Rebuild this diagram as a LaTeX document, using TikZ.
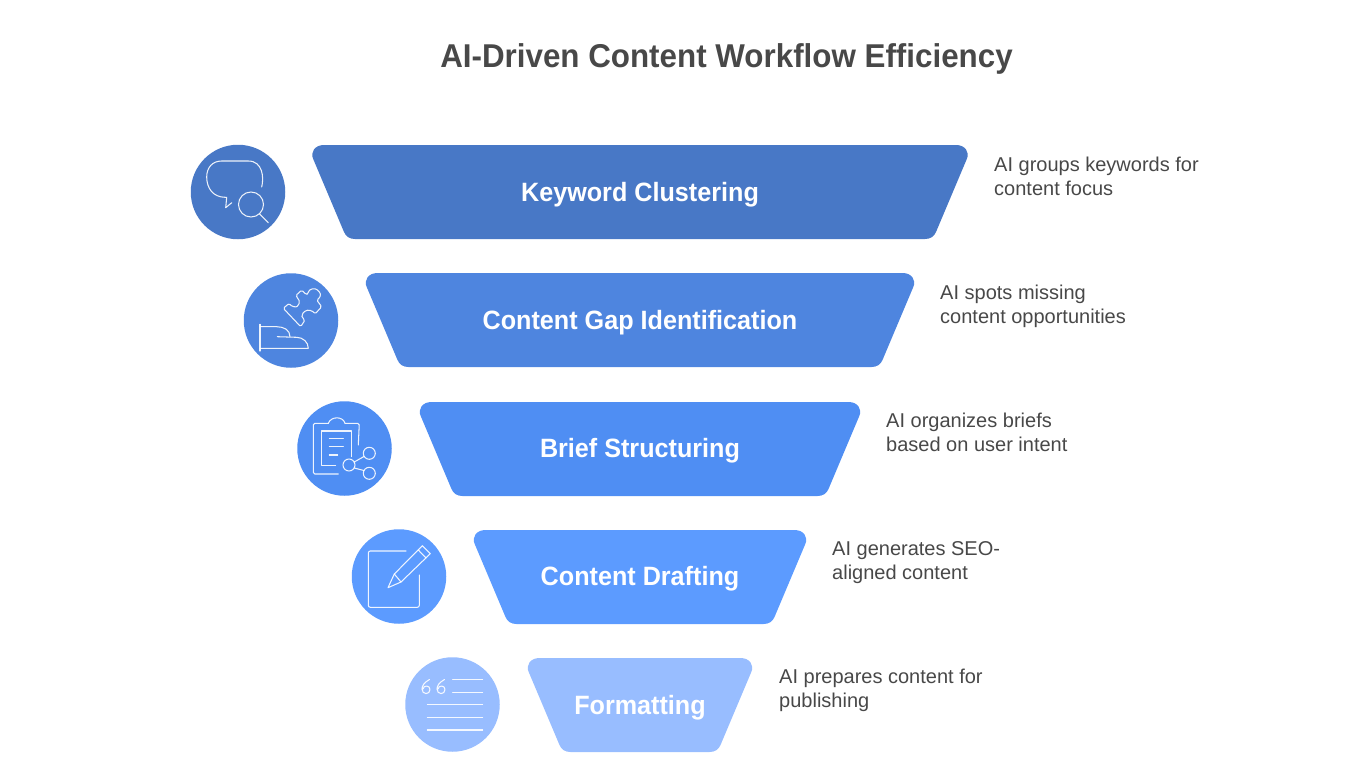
\documentclass[tikz,border=0pt]{standalone}
\usepackage{fontspec}
\setmainfont{Liberation Sans}
\newfontfamily\condb[FakeStretch=0.95]{Liberation Sans}
\definecolor{cA}{HTML}{4878C6}
\definecolor{cB}{HTML}{4E85DF}
\definecolor{cC}{HTML}{4F8EF3}
\definecolor{cD}{HTML}{5C9BFF}
\definecolor{cE}{HTML}{98BDFF}
\definecolor{ink}{HTML}{484848}
\tikzset{
  disc/.style={circle,minimum size=94.5pt,inner sep=0pt},
  bandlabel/.style={font=\fontsize{26.5}{27}\condb\bfseries,text=white,inner sep=0pt,anchor=base},
  side/.style={font=\fontsize{20}{24}\selectfont,text=ink,anchor=base west,inner sep=0pt},
  icon/.style={draw=white,line width=1.05pt,line cap=round,line join=round,opacity=.9},
}
% colour, top y, half-width reduction relative to the widest band
\newcommand\bandshape[3]{%
  \fill[#1,shift={(640,#2)}]
    ({-316+#3},0) -- ({316-#3},0)
    .. controls ({325-#3},0) and ({330-#3},7) .. ({326.8-#3},14)
    -- ({296-#3},87) .. controls ({294-#3},91.5) and ({290.5-#3},94) .. ({285-#3},94)
    -- ({-285+#3},94) .. controls ({-290.5+#3},94) and ({-294+#3},91.5) .. ({-296+#3},87)
    -- ({-326.8+#3},14) .. controls ({-330+#3},7) and ({-325+#3},0) .. ({-316+#3},0) -- cycle;}
\begin{document}
\begin{tikzpicture}[x=1pt,y=-1pt]
\useasboundingbox (0,0) rectangle (1360,768);
\node[font=\fontsize{33}{33}\condb\bfseries,text=ink,inner sep=0pt,anchor=base] (title) at (726.5,67) {AI-Driven Content Workflow Efficiency};
% bands
\bandshape{cA}{145}{0}
\bandshape{cB}{273}{53.5}
\bandshape{cC}{402}{107.5}
\bandshape{cD}{530}{161.5}
\bandshape{cE}{658}{215.5}
\node[bandlabel] (b1) at (640,201) {Keyword Clustering};
\node[bandlabel] (b2) at (640,329.5) {Content Gap Identification};
\node[bandlabel] (b3) at (640,457.5) {Brief Structuring};
\node[bandlabel] (b4) at (640,585.5) {Content Drafting};
\node[bandlabel] (b5) at (640,714) {Formatting};
% discs
\node[disc,fill=cA] (d1) at (238,192) {};
\node[disc,fill=cB] (d2) at (291,320.5) {};
\node[disc,fill=cC] (d3) at (344.5,448.5) {};
\node[disc,fill=cD] (d4) at (399,576.5) {};
\node[disc,fill=cE] (d5) at (452.5,704.5) {};
% side texts
\node[side] (t1a) at (994,171) {AI groups keywords for};
\node[side] (t1b) at (994,195) {content focus};
\node[side] (t2a) at (940,299) {AI spots missing};
\node[side] (t2b) at (940,323) {content opportunities};
\node[side] (t3a) at (886,427) {AI organizes briefs};
\node[side] (t3b) at (886,451) {based on user intent};
\node[side] (t4a) at (832,555) {AI generates SEO-};
\node[side] (t4b) at (832,579) {aligned content};
\node[side] (t5a) at (779,683) {AI prepares content for};
\node[side] (t5b) at (779,707) {publishing};
% icon 1
\draw[icon] (261.7,187) .. controls (264,178) and (263,161) .. (248.3,161) -- (221.7,161) .. controls (212,161) and (206.7,168) .. (206.7,177) .. controls (206.7,188) and (213,197.3) .. (225.3,197.3) -- (226.7,197.3) -- (225.7,207.7) -- (231.7,202.7);
\draw[icon] (251,204.5) circle (12.5);
\draw[icon] (259.5,214) -- (268.3,222.7);
% icon 2
\draw[icon] (260,324.3) -- (260,351);
\draw[icon] (260,326.7) -- (276.7,326.7) .. controls (284,326.7) and (290,330) .. (290,336.7);
\draw[icon] (277.3,336.7) -- (296.7,337.3) .. controls (303,337.5) and (308.3,342) .. (308.3,348.3) -- (260,348.3);
\draw[icon,rounded corners=1.5pt] (283.3,308.3) -- (289.3,303.3) .. controls (291,306) and (296,308) .. (298.3,305) .. controls (300,302) and (299,299) .. (295.7,295.7) -- (301.7,290) -- (304,292.5) .. controls (305,293.5) and (307.5,294) .. (308.3,293.3) .. controls (309,289) and (315,287.5) .. (318.5,291) .. controls (322,295) and (319,298.5) .. (316.7,300) -- (321.7,306.7) -- (315,314) .. controls (313,311) and (308,309) .. (304,312) .. controls (301,315) and (302,318) .. (305,320) -- (300.7,326.7) -- cycle;
% icon 3
\draw[icon,rounded corners=1.5pt] (358.3,445) -- (359.3,423.3) -- (345,423.3);
\draw[icon] (345,423.3) .. controls (343,416) and (331,416) .. (328.3,423.3);
\draw[icon,rounded corners=1.5pt] (328.3,423.3) -- (313.3,423.3) -- (313.3,474) -- (338.3,474);
\draw[icon] (351.7,456.7) -- (351.7,431) -- (321.7,431) -- (321.7,465.7) -- (335.7,465.7);
\draw[icon] (329.3,438.3) -- (343.3,438.3) (329.3,446.7) -- (343.3,446.7) (329.3,455) -- (337.7,455);
\draw[icon] (349,465) circle (6) (369.3,453.3) circle (6) (369.3,473.3) circle (6);
\draw[icon] (354.2,462) -- (364,456.5) (354.2,468) -- (364,470.5);
% icon 4
\draw[icon,rounded corners=2pt] (406,551) -- (368.3,551) -- (368.3,607.3) -- (419.3,607.3) -- (419.3,575);
\draw[icon] (388,587.7) -- (394.3,574) -- (422.3,545.7) -- (430.3,553.7) -- (401,582) -- cycle;
\draw[icon] (394.3,574) -- (401,582) (418.3,550) -- (426,558);
% icon 5
\draw[icon] (452.7,679.7) -- (482.7,679.7) (452.7,692.3) -- (482.7,692.3) (427.3,704.7) -- (482.7,704.7) (427.3,717.7) -- (482.7,717.7) (427.3,730) -- (482.7,730);
\draw[icon] (429.5,679.5) .. controls (424,682.5) and (422,686) .. (422,689) .. controls (422,695) and (430,695) .. (430,689.5) .. controls (430,685) and (423.5,685) .. (423,689);
\draw[icon] (444.5,679.5) .. controls (439,682.5) and (437,686) .. (437,689) .. controls (437,695) and (445,695) .. (445,689.5) .. controls (445,685) and (438.5,685) .. (438,689);
\end{tikzpicture}
\end{document}
